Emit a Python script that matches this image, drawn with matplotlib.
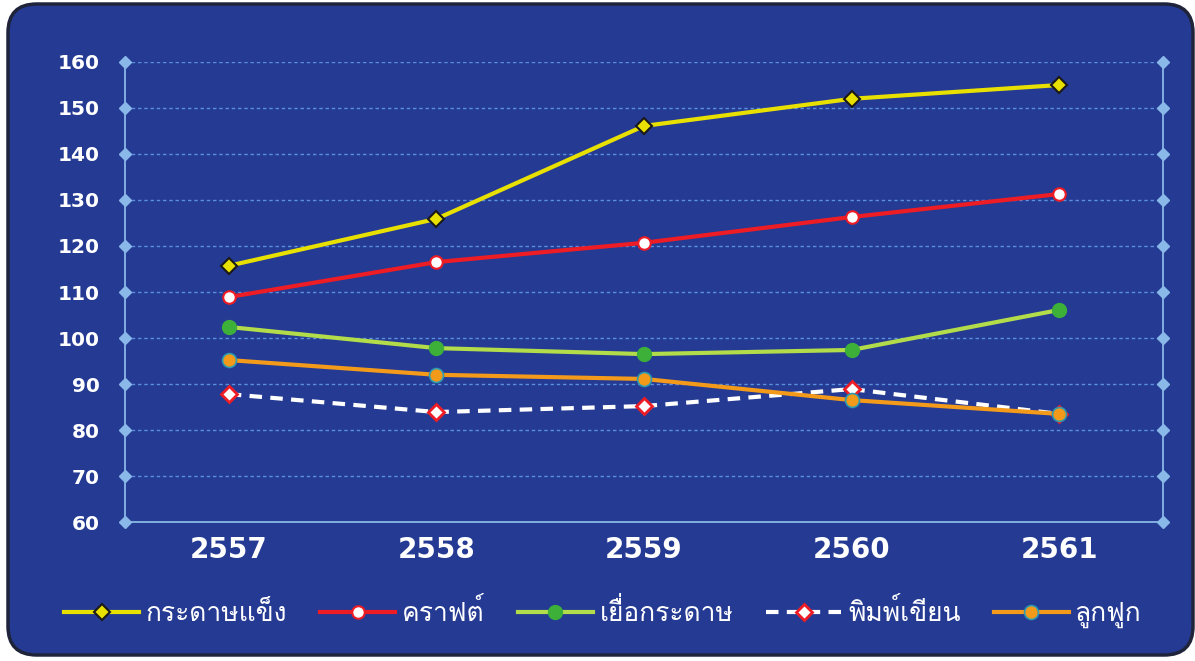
import matplotlib
matplotlib.use("Agg")
import matplotlib.pyplot as plt
from matplotlib import font_manager
from matplotlib.ft2font import FT2Font
from matplotlib.patches import FancyBboxPatch

# ---------------- data ----------------
years = ["2557", "2558", "2559", "2560", "2561"]
kradas_khaeng = [115.7, 125.9, 146.1, 152.0, 155.0]
kraft = [108.9, 116.5, 120.7, 126.3, 131.3]
yuea_kradas = [102.4, 97.8, 96.5, 97.4, 106.1]
phim_khian = [87.8, 83.9, 85.2, 88.9, 83.5]
luk_fuk = [95.2, 92.0, 91.1, 86.5, 83.5]
series_names = ["กระดาษแข็ง", "คราฟต์", "เยื่อกระดาษ", "พิมพ์เขียน", "ลูกฟูก"]
y_ticks = [60, 70, 80, 90, 100, 110, 120, 130, 140, 150, 160]


def find_thai_font():
    best = None
    for f in font_manager.fontManager.ttflist:
        try:
            cm = FT2Font(f.fname).get_charmap()
        except Exception:
            continue
        if 0x0E01 in cm and 0x0E32 in cm:
            if f.weight in (400, "normal", "regular") and f.style == "normal":
                return f.name
            if best is None:
                best = f.name
    return best


thai = find_thai_font()
fam = [thai, "DejaVu Sans"] if thai else ["DejaVu Sans"]

W, H = 1195, 661
fig = plt.figure(figsize=(W / 100, H / 100), dpi=100)
fig.patch.set_facecolor("white")

bg = "#243a93"
box = FancyBboxPatch((8 / W, 6 / H), (1185 / W), (651 / H),
                     boxstyle="round,pad=0,rounding_size=0.024",
                     transform=fig.transFigure, facecolor=bg,
                     edgecolor="#20243a", linewidth=2.5,
                     mutation_aspect=W / H, zorder=-10)
fig.patches.append(box)

ax = fig.add_axes([125 / W, 1 - 522 / H, (1163 - 125) / W, (522 - 62) / H])
ax.set_facecolor("none")
ax.set_zorder(5)

x = list(range(len(years)))
grid_c = "#5a8fdc"
axis_c = "#8ab8e8"

for yt in y_ticks[1:]:
    ax.axhline(yt, color=grid_c, lw=1.0, ls=(0, (2.5, 2)), zorder=1)

ax.set_xlim(-0.5, len(years) - 0.5)
ax.set_ylim(60, 160)

ax.spines["top"].set_visible(False)
for s in ["left", "right", "bottom"]:
    ax.spines[s].set_color(axis_c)
    ax.spines[s].set_linewidth(1.3)

tr = ax.get_yaxis_transform()
ax.plot([0] * len(y_ticks), y_ticks, "D", ms=6, color=axis_c, transform=tr, clip_on=False, zorder=3)
ax.plot([1] * len(y_ticks), y_ticks, "D", ms=6, color=axis_c, transform=tr, clip_on=False, zorder=3)

ax.set_yticks(y_ticks)
ax.set_yticklabels([str(v) for v in y_ticks])
ax.set_xticks(x)
ax.set_xticklabels(years)
ax.tick_params(axis="y", length=0, pad=18, labelcolor="white", labelsize=14.5)
ax.tick_params(axis="x", length=0, pad=10, labelcolor="white", labelsize=20)
for lab in ax.get_yticklabels():
    lab.set_fontweight("bold")
for lab in ax.get_xticklabels():
    lab.set_fontweight("bold")

lw = 3.0
h1, = ax.plot(x, kradas_khaeng, color="#e8e000", lw=lw, marker="D", ms=8,
              mfc="#e8e000", mec="#1a1a1a", mew=1.5, zorder=5)
h2, = ax.plot(x, kraft, color="#ee1c24", lw=lw, marker="o", ms=9,
              mfc="white", mec="#ee1c24", mew=1.5, zorder=5)
h3, = ax.plot(x, yuea_kradas, color="#b2dc4a", lw=lw, marker="o", ms=10,
              mfc="#3db03a", mec="#3db03a", zorder=5)
h4, = ax.plot(x, phim_khian, color="white", lw=lw, ls=(0, (3, 2)), marker="D", ms=8,
              mfc="white", mec="#ee1c24", mew=2, zorder=5)
h5, = ax.plot(x, luk_fuk, color="#f39a1b", lw=lw, marker="o", ms=10,
              mfc="#f39a1b", mec="#2f9bb0", mew=1.2, zorder=6)

leg = fig.legend([h1, h2, h3, h4, h5], series_names, loc="center",
                 bbox_to_anchor=(603 / W, 1 - 613 / H), ncol=5, frameon=False,
                 handlelength=2.85, columnspacing=1.25, handletextpad=0.25,
                 prop={"family": fam, "size": 19})
for t in leg.get_texts():
    t.set_color("white")

fig.savefig("out.png", dpi=100, facecolor="white")
